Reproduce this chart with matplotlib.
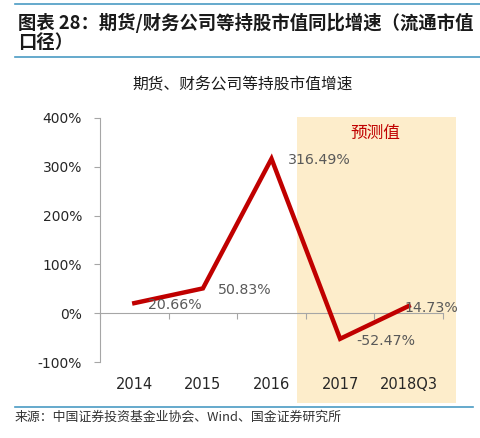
import matplotlib.pyplot as plt
from matplotlib.patches import Rectangle
from matplotlib.lines import Line2D
from matplotlib.transforms import blended_transform_factory

plt.rcParams['font.family'] = ['Noto Sans CJK SC', 'DejaVu Sans']

# data
categories = ['2014', '2015', '2016', '2017', '2018Q3']
growth = [20.66, 50.83, 316.49, -52.47, 14.73]
value_labels = ['20.66%', '50.83%', '316.49%', '-52.47%', '14.73%']
yticks = [-100, 0, 100, 200, 300, 400]
ytick_labels = ['-100%', '0%', '100%', '200%', '300%', '400%']
forecast_start = 3  # 2017 onwards is forecast

# label offsets in pixels (right of point)
label_offsets = [(14, -2), (15, -2), (16, -1), (16, -2), (-4, -2)]

fig = plt.figure(figsize=(4.81, 4.38), dpi=100)
ax = fig.add_axes([0.2079, 0.1735, 0.7131, 0.5571])

x = list(range(len(categories)))

# forecast shading (spills over axes a bit, like the excel chart)
shade = Rectangle((forecast_start - 0.63, -183), 4.69 - (forecast_start - 0.63), 402 + 183,
                  facecolor='#FDEDCB', edgecolor='none', clip_on=False, zorder=0)
ax.add_patch(shade)
ax.text(3.51, 369, '预测值', color='#C00000', fontsize=12, ha='center', va='center', zorder=3)

ax.plot(x, growth, color='#C00000', lw=3.2, solid_joinstyle='miter', zorder=4)

for xi, v, lab, off in zip(x, growth, value_labels, label_offsets):
    ax.annotate(lab, (xi, v), xytext=off, textcoords='offset pixels',
                ha='left', va='center', fontsize=10.2, color='#595959',
                family=['DejaVu Sans'], zorder=5)

ax.set_xlim(-0.5, 4.5)
ax.set_ylim(-100, 400)
ax.patch.set_visible(False)

for s in ['top', 'right']:
    ax.spines[s].set_visible(False)
ax.spines['left'].set_color('#A6A6A6')
ax.spines['bottom'].set_color('#A6A6A6')
ax.spines['bottom'].set_position(('data', 0))

ax.set_yticks(yticks)
ax.set_yticklabels(ytick_labels, fontsize=10, color='#262626', family=['DejaVu Sans'])
ax.tick_params(axis='y', length=4, color='#A6A6A6', pad=9)

ax.set_xticks([i - 0.5 for i in range(len(categories) + 1)])
ax.set_xticklabels([])
ax.tick_params(axis='x', length=4, color='#A6A6A6', direction='out')

trans = blended_transform_factory(ax.transData, ax.transAxes)
for xi, c in zip(x, categories):
    ax.text(xi, -0.094, c, transform=trans, ha='center', va='center',
            fontsize=10.5, color='#262626', family=['DejaVu Sans'])

# chart title
fig.text(0.505, 0.806, '期货、财务公司等持股市值增速', ha='center', va='center',
         fontsize=11.3, color='#1a1a1a')

# report header and footer
blue = '#4A9BC3'
fig.add_artist(Line2D([0.031, 1.0], [0.9909, 0.9909], color=blue, lw=1.2))
fig.add_artist(Line2D([0.031, 1.0], [0.8699, 0.8699], color=blue, lw=1.2))
fig.add_artist(Line2D([0.031, 0.983], [0.0708, 0.0708], color=blue, lw=1.2))
fig.text(0.037, 0.9475, '图表 28：期货/财务公司等持股市值同比增速（流通市值',
         ha='left', va='center', fontsize=13.2, fontweight='bold', style='italic',
         color='#1a1a1a')
fig.text(0.037, 0.904, '口径）', ha='left', va='center', fontsize=13.2,
         fontweight='bold', style='italic', color='#1a1a1a')
fig.text(0.031, 0.048, '来源：中国证券投资基金业协会、Wind、国金证券研究所',
         ha='left', va='center', fontsize=9.3, color='#333333')

fig.savefig('out.png', dpi=100)
